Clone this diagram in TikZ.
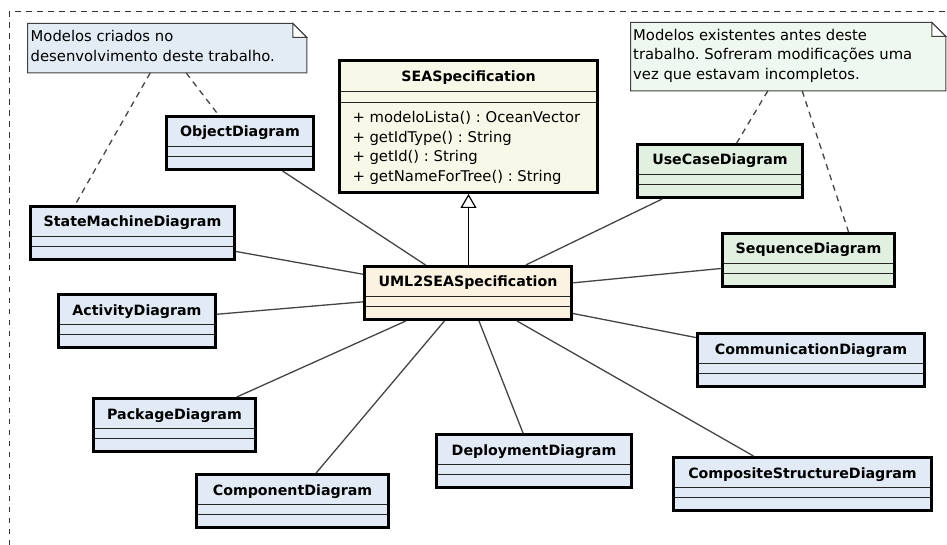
\documentclass[tikz,border=0pt]{standalone}
\usepackage{fontspec}
\setmainfont{DejaVu Sans}
\usetikzlibrary{arrows.meta,backgrounds}
\frenchspacing

\definecolor{clsblue}{HTML}{E1EAF5}
\definecolor{clsgreen}{HTML}{E1F0E1}
\definecolor{seafill}{HTML}{F8F8E8}
\definecolor{umlfill}{HTML}{FBF2E2}
\definecolor{noteblue}{HTML}{E3EBF5}
\definecolor{notegreen}{HTML}{EEF8EE}
\definecolor{linkgray}{HTML}{444444}

\newcommand{\clstitlefont}{\fontsize{14.2}{17}\selectfont\bfseries}
\newcommand{\clsbodyfont}{\fontsize{14.8}{19.7}\selectfont\mdseries}

\begin{document}
\begin{tikzpicture}[x=1pt,y=-1pt,
  sepline/.style={draw=black!85, line width=1.5pt},
  seps/.style 2 args={path picture={
      \draw[sepline] ([yshift=-#1]path picture bounding box.north west) -- ([yshift=-#1]path picture bounding box.north east);
      \draw[sepline] ([yshift=-#2]path picture bounding box.north west) -- ([yshift=-#2]path picture bounding box.north east);}},
  clsframe/.style={draw=black, line width=3pt, inner sep=0pt},
  classbox/.style={clsframe, minimum width=#1, text height=20.5pt, text depth=32.5pt,
      font=\clstitlefont, seps={30pt}{40pt}},
  notenode/.style={inner sep=0pt, anchor=north west, font=\clsbodyfont},
  noteline/.style={draw=black!75, line width=1pt},
  assoc/.style={draw=linkgray, line width=1.3pt},
  gen/.style={draw=black, line width=1.2pt, -{Triangle[open, length=14pt, width=16pt, fill=white]}},
  notelink/.style={draw=linkgray, line width=1.3pt, dash pattern=on 6pt off 5pt},
  frame/.style={draw=black!80, line width=1pt, dash pattern=on 5.5pt off 5.5pt}
]
\useasboundingbox (0,0) rectangle (947,545);

% package frame (only its top and left edges fall inside the page)
\coordinate (frameBL) at (9.5,545);
\coordinate (frameTL) at (9.5,11.5);
\coordinate (frameTR) at (947,11.5);
\draw[frame] (frameBL) -- (frameTL) -- (frameTR);

% superclass and its specialisation
\node[clsframe, fill=seafill, seps={31pt}{42pt}] (sea) at (468.5,126.5)
  {\parbox[c][132pt][t]{258pt}{\clstitlefont
    \makebox[258pt]{\rule{0pt}{21.5pt}SEASpecification}\par
    \vspace{20.8pt}
    \clsbodyfont\raggedright
    \hspace*{13pt}+ modeloLista() : OceanVector\par
    \hspace*{13pt}+ getIdType() : String\par
    \hspace*{13pt}+ getId() : String\par
    \hspace*{13pt}+ getNameForTree() : String\par}};

\node[classbox=207pt, fill=umlfill] (uml) at (468,293) {UML2SEASpecification};

% diagram classes
\node[classbox=147pt, fill=clsblue] (obj) at (240,143) {ObjectDiagram};
\node[classbox=204pt, fill=clsblue] (sm) at (132.5,233) {StateMachineDiagram};
\node[classbox=157pt, fill=clsblue] (act) at (137,321) {ActivityDiagram};
\node[classbox=162pt, fill=clsblue] (pkg) at (174.5,425) {PackageDiagram};
\node[classbox=192pt, fill=clsblue] (comp) at (292.5,501) {ComponentDiagram};
\node[classbox=195pt, fill=clsblue] (dep) at (534,461) {DeploymentDiagram};
\node[classbox=258pt, fill=clsblue] (cst) at (802.5,484) {CompositeStructureDiagram};
\node[classbox=227pt, fill=clsblue] (comm) at (811,360) {CommunicationDiagram};
\node[classbox=172pt, fill=clsgreen] (seq) at (808.5,260) {SequenceDiagram};
\node[classbox=165pt, fill=clsgreen] (uc) at (720,171) {UseCaseDiagram};

% notes
\node[notenode] (n1) at (27.5,23.5)
  {\parbox[t][49pt][t]{279pt}{\leftskip=3pt\rule{0pt}{18pt}Modelos criados no\\
    desenvolvimento deste trabalho.}};
\node[notenode] (n2) at (630.5,22.5)
  {\parbox[t][68pt][t]{315pt}{\leftskip=2.5pt\rule{0pt}{17.5pt}Modelos existentes antes deste\\
    trabalho. Sofreram modificações uma\\
    vez que estavam incompletos.}};

\begin{scope}[on background layer]
  \foreach \n/\c in {n1/noteblue, n2/notegreen}{
    \filldraw[noteline, fill=\c] (\n.north west) -- ([xshift=-14pt]\n.north east)
      -- ([yshift=-14pt]\n.north east) -- (\n.south east) -- (\n.south west) -- cycle;
    \filldraw[noteline, fill=white] ([xshift=-14pt]\n.north east)
      -- ([xshift=-14pt,yshift=-14pt]\n.north east) -- ([yshift=-14pt]\n.north east) -- cycle;
  }
\end{scope}

% associations
\draw[gen] (sea.south |- uml.north) -- (sea.south);
\foreach \c in {obj, sm, act, pkg, comp, dep, cst, comm, seq, uc}
  \draw[assoc] (\c) -- (uml);

% note anchors
\draw[notelink] (n1) -- (obj);
\draw[notelink] ([xshift=-17pt]n1.south) -- ([xshift=-57.5pt]sm.north);
\draw[notelink] (n2) -- (uc);
\draw[notelink] ([xshift=14pt]n2.south) -- ([xshift=40pt]seq.north);
\end{tikzpicture}
\end{document}
